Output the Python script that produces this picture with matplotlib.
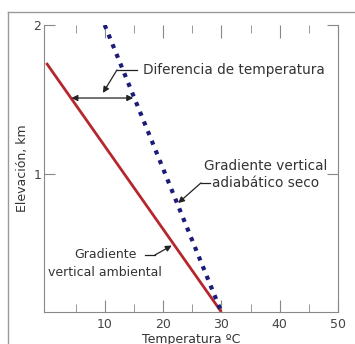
import matplotlib
matplotlib.use("Agg")
import matplotlib.pyplot as plt
from matplotlib.lines import Line2D

# Data
ambient_x = [0, 30]
ambient_y = [1.745, 0.074]
adiabatic_x = [10, 30]
adiabatic_y = [2.0, 0.074]
xticks_major = [10, 20, 30, 40, 50]
xticks_minor = [5, 15, 25, 35, 45]
yticks = [1, 2]

label_diff = "Diferencia de temperatura"
label_adiab = "Gradiente vertical\nadiabático seco"
label_amb = "Gradiente\nvertical ambiental"

fig = plt.figure(figsize=(3.55, 3.44), dpi=100)
ax = fig.add_axes([44/355, 1-312/344, (338-44)/355, (312-25)/344])

# frame around figure
fc = "#999999"
fig.add_artist(Line2D([8/355, 8/355], [0, 1-12/344], color=fc, lw=1, transform=fig.transFigure))
fig.add_artist(Line2D([8/355, 1], [1-12/344, 1-12/344], color=fc, lw=1, transform=fig.transFigure))

ax.plot(ambient_x, ambient_y, color="#b5272d", lw=2, solid_capstyle="butt")
ax.plot(adiabatic_x, adiabatic_y, color="#1c1c78", lw=3, linestyle=(0, (1, 1.5)), dash_capstyle="butt")

ax.set_xlim(-0.4, 50)
ax.set_ylim(0.074, 2.0)

spc = "#888888"
for s in ["left", "bottom", "right"]:
    ax.spines[s].set_color(spc)
ax.spines["top"].set_visible(False)

ax.set_xticks(xticks_major)
ax.set_xticks(xticks_minor, minor=True)
ax.set_yticks(yticks)
ax.tick_params(axis="x", which="major", direction="in", length=9, color=spc, top=True, labelsize=9, labelcolor="#444444", pad=4)
ax.tick_params(axis="x", which="minor", direction="in", length=6, color=spc, top=True)
ax.tick_params(axis="y", which="major", direction="in", length=8, color=spc, right=True, labelsize=9, labelcolor="#444444", pad=2)
ax.set_xticklabels(["10", "20", "30", "40", "50"])
ax.set_yticklabels(["1", "2"])

ax.set_xlabel("Temperatura ºC", fontsize=9, color="#333333", labelpad=2)
ax.set_ylabel("Elevación, km", fontsize=9, color="#333333", labelpad=3)

tc = "#333333"
lc = "#222222"
arrow_kw = dict(arrowstyle="-|>", color=lc, lw=0.9, mutation_scale=9, shrinkA=0, shrinkB=0)

# Diferencia de temperatura
ax.text(16.5, 1.698, label_diff, fontsize=9.8, color=tc, va="center", ha="left")
ax.plot([15.5, 12.1], [1.698, 1.698], color=lc, lw=0.9)
ax.annotate("", xy=(9.7, 1.544), xytext=(12.1, 1.698), arrowprops=arrow_kw)
ax.annotate("", xy=(4.3, 1.51), xytext=(14.9, 1.51),
            arrowprops=dict(arrowstyle="<|-|>", color=lc, lw=0.9, mutation_scale=9, shrinkA=0, shrinkB=0))

# Adiabatic
ax.text(37.65, 0.997, label_adiab, fontsize=9.8, color=tc, va="center", ha="center",
        multialignment="center", linespacing=1.3)
ax.plot([28.0, 26.5], [0.94, 0.94], color=lc, lw=0.9)
ax.annotate("", xy=(22.6, 0.805), xytext=(26.5, 0.94), arrowprops=arrow_kw)

# Ambient
ax.text(10.1, 0.399, label_amb, fontsize=9, color=tc, va="center", ha="center",
        multialignment="center", linespacing=1.45)
ax.plot([16.9, 18.6], [0.456, 0.456], color=lc, lw=0.9)
ax.annotate("", xy=(21.5, 0.52), xytext=(18.6, 0.456), arrowprops=arrow_kw)

fig.savefig("out.png", dpi=100)
